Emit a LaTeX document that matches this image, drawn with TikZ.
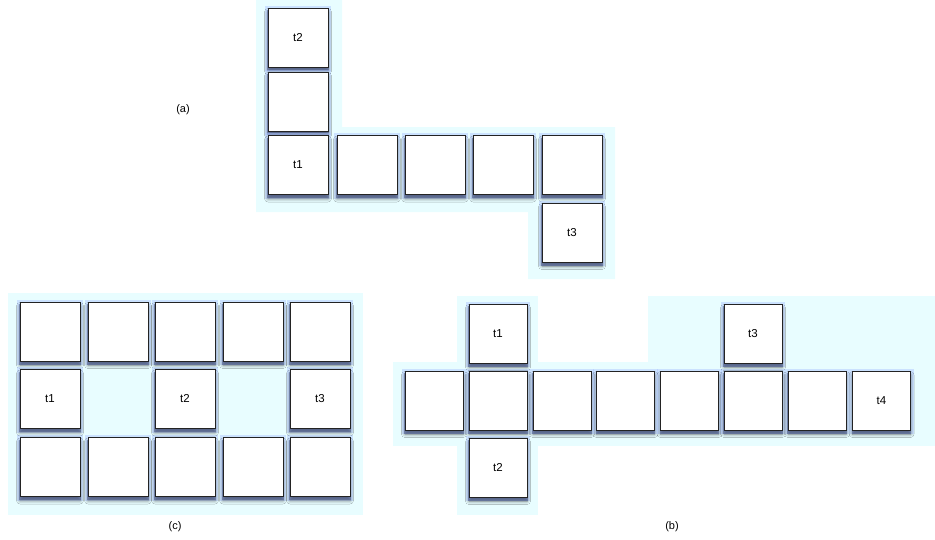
\documentclass[tikz,border=0pt]{standalone}
\usepackage{fontspec}
\setmainfont{Liberation Sans}
\usepackage{tikz}
\usetikzlibrary{shadows,shadows.blur}
\usepackage{xcolor}
\definecolor{pale}{RGB}{232,253,255}
\definecolor{rim}{RGB}{35,35,35}
\definecolor{haze}{RGB}{175,200,255}
\definecolor{dusk}{RGB}{80,95,145}

\begin{document}
\begin{tikzpicture}[x=1pt,y=-1pt,
  cell/.style={draw=rim,line width=1pt,fill=white,minimum width=60pt,minimum height=59pt,inner sep=0pt,
    font=\fontsize{11.5}{13}\selectfont,
    general shadow={shadow yshift=-1pt,shadow scale=1.11,fill=haze,opacity=0.5},
    blur shadow={shadow xshift=0pt,shadow yshift=-4pt,shadow blur radius=3.5pt,shadow opacity=55},
    general shadow={shadow yshift=-3pt,shadow scale=1.02,fill=dusk,opacity=0.6}},
  subtag/.style={font=\fontsize{11}{13}\selectfont}]
  \useasboundingbox (0,0) rectangle (935,539);
  % (a)
  \fill[pale] (256,0) -- (342,0) -- (342,127) -- (615,127) -- (615,279) -- (528,279) -- (528,212) -- (256,212) -- cycle;
  \node[cell] (a2) at (298,37.5) {t2};
  \node[cell] (am) at (298,101.5) {};
  \foreach \i/\x/\lab in {1/298/t1,2/367/,3/435/,4/503/,5/572/}
    \node[cell] (ar\i) at (\x,165) {\lab};
  \node[cell] (a3) at (572,232.5) {t3};
  \node[subtag] (la) at (183,110) {(a)};
  % (c)
  \fill[pale] (8,293) rectangle (363,515);
  \foreach \i/\x in {1/50,2/118,3/185,4/253,5/320} {
    \node[cell] (ct\i) at (\x,331.5) {};
    \node[cell] (cb\i) at (\x,467) {};
  }
  \node[cell] (c1) at (50,399) {t1};
  \node[cell] (c2) at (185,399) {t2};
  \node[cell] (c3) at (320,399) {t3};
  \node[subtag] (lc) at (175,527) {(c)};
  % (b)
  \fill[pale] (393,362) rectangle (935,446);
  \fill[pale] (457,296) rectangle (538,515);
  \fill[pale] (648,296) rectangle (935,362);
  \foreach \i/\x/\lab in {1/434/,2/498/,3/562/,4/625.5/,5/689.5/,6/753/,7/817/,8/881.5/t4}
    \node[cell,minimum width=58pt] (br\i) at (\x,400.5) {\lab};
  \node[cell,minimum width=58pt] (b1) at (498,333.5) {t1};
  \node[cell,minimum width=58pt] (b2) at (498,467.5) {t2};
  \node[cell,minimum width=58pt] (b3) at (753,333.5) {t3};
  \node[subtag] (lb) at (672,527) {(b)};
\end{tikzpicture}
\end{document}
